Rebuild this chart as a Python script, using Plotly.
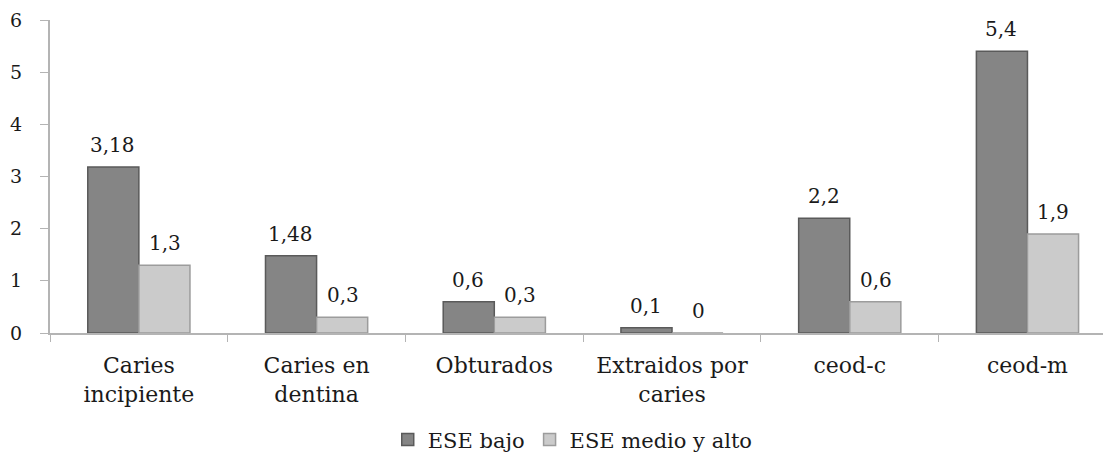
import plotly.graph_objects as go

categories = ["Caries<br>incipiente", "Caries en<br>dentina", "Obturados",
              "Extraidos por<br>caries", "ceod-c", "ceod-m"]
bajo = [3.18, 1.48, 0.6, 0.1, 2.2, 5.4]
medio_alto = [1.3, 0.3, 0.3, 0, 0.6, 1.9]
series_names = ["ESE bajo", "ESE medio y alto"]
y_ticks = [0, 1, 2, 3, 4, 5, 6]

def fmt(v):
    return ("%g" % v).replace(".", ",")

FONT = "DejaVu Serif"
TXT = "#1a1a1a"

fig = go.Figure()
fig.add_trace(go.Bar(
    x=categories, y=bajo, name=series_names[0],
    marker=dict(color="#858585", line=dict(color="#5a5a5a", width=1.5)),
))
fig.add_trace(go.Bar(
    x=categories, y=medio_alto, name=series_names[1],
    marker=dict(color="#cbcbcb", line=dict(color="#9c9c9c", width=1.5)),
))

# data labels placed via the axes, shifted to the side of each grouped bar
for vals, shift in ((bajo, -26), (medio_alto, 26)):
    for c, v in zip(categories, vals):
        fig.add_annotation(x=c, y=v, xref="x", yref="y", text=fmt(v),
                           showarrow=False, xshift=shift, yshift=8,
                           yanchor="bottom",
                           font=dict(family=FONT, size=20, color=TXT))

# the page body adds an 8px offset, so the figure is 8px smaller and margins reduced
fig.update_layout(
    width=1103, height=448,
    margin=dict(l=42, r=0, t=12, b=123),
    plot_bgcolor="white", paper_bgcolor="white",
    barmode="group", bargap=0.425, bargroupgap=0,
    font=dict(family=FONT, size=20, color=TXT),
    legend=dict(orientation="h", x=0.512, xanchor="center", xref="container",
                y=0.036, yanchor="middle", yref="container",
                font=dict(family=FONT, size=21, color=TXT), traceorder="normal",
                itemwidth=30),
    showlegend=True,
)
fig.update_xaxes(
    range=[-0.5, 5.47], showline=True, linecolor="#b4b4b4", linewidth=2,
    ticks="outside", tickson="boundaries", ticklen=7, tickcolor="#b4b4b4",
    tickfont=dict(family=FONT, size=22, color=TXT), showgrid=False,
    automargin=False, ticklabelstandoff=12,
)
fig.update_yaxes(
    range=[0, 6], tickvals=y_ticks, showline=True, linecolor="#b4b4b4", linewidth=2,
    ticks="outside", ticklen=8, tickcolor="#b4b4b4", showgrid=False, zeroline=False,
    tickfont=dict(family=FONT, size=19, color=TXT), automargin=False,
    ticklabelstandoff=14,
)
fig.write_html("out.html")
